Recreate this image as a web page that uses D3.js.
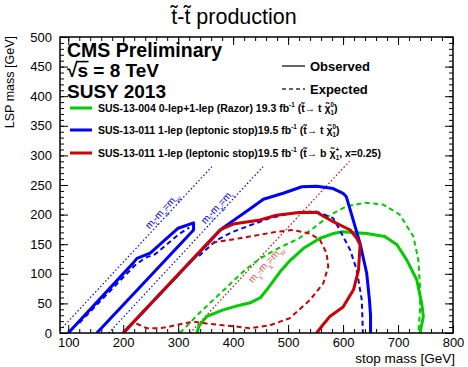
<!DOCTYPE html>
<html>
<head>
<meta charset="utf-8">
<script src="https://cdn.jsdelivr.net/npm/d3@7"></script>
<style>
  body { margin: 0; background: #fff; }
  svg { display: block; }
  text { font-family: "Liberation Sans", Arial, Helvetica, sans-serif; }
</style>
</head>
<body>
<svg id="chart" width="468" height="367"></svg>
<script>
// ---- data (stop mass, LSP mass) in GeV ----
const stopTicks = [100, 200, 300, 400, 500, 600, 700, 800];
const lspTicks = [0, 50, 100, 150, 200, 250, 300, 350, 400, 450, 500];

// SUS-13-004 razor, t~ -> t chi0
const razorObs = [[334,0],[338,12],[352,28],[382,39],[412,47],[431,51],[450,60],[467,80],[485,103],[503,122],[528,143],[558,160],[582,168],[600,171],[643,168],[676,163],[698,149],[716,123],[734,90],[743,50],[746,28],[740,0]];
const razorExp = [[303,0],[340,35],[380,70],[420,105],[449,126],[480,142],[520,160],[550,180],[576,199],[606,214],[640,220],[673,217],[703,200],[728,163],[737,123],[740,79],[740,39],[737,0]];

// SUS-13-011 single lepton, t~ -> t chi0 (compressed strip + main region)
const lepTopStripObs = [[100,0],[218,118],[225,126],[249,135],[300,177],[328,186],[328,174],[152,0]];
const lepTopStripExp = [[120,17],[170,65],[221,114],[240,127],[258,133],[300,166],[320,178]];
const lepTopObs = [[200,0],[376,173],[382,178],[431,210],[455,226],[491,236],[525,247],[552,248],[582,244],[600,236],[606,230],[613,208],[631,151],[643,101],[648,56],[650,30],[650,0]];
const lepTopExp = [[338,130],[346,137],[370,157],[400,171],[431,182],[449,188],[467,194],[503,202],[528,205],[552,205],[582,194],[594,174],[613,140],[625,106],[634,56],[635,30],[636,0]];

// SUS-13-011 single lepton, t~ -> b chi+, x = 0.25
const lepBotObs = [[200,0],[376,174],[400,184],[449,191],[479,199],[516,203],[552,204],[582,188],[613,174],[625,160],[631,149],[628,106],[619,73],[600,44],[576,28],[561,11],[552,0]];
const lepBotExp = [[224,16],[243,8],[267,8],[285,11],[309,16],[328,19],[352,16],[382,13],[406,11],[430,8],[467,13],[503,25],[540,56],[564,84],[573,112],[570,135],[558,157],[540,168],[509,174],[479,171],[449,166],[412,160],[370,154],[345,146]];

// kinematic boundaries m(stop) - m(LSP) = offset, drawn up to a given LSP mass
const kinOffsets = [80.4, 173.5, 321.6];
const kinLspTop = [281, 281, 290];
const kinLabelLsp = [199, 205, 126];

// ---- layout ----
const svg = d3.select("#chart");
const L = 60, R = 453, T = 37, B = 333;
const x = d3.scaleLinear().domain([85, 800]).range([L, R]);
const y = d3.scaleLinear().domain([0, 500]).range([B, T]);

svg.append("defs").append("clipPath").attr("id", "plotclip")
  .append("rect").attr("x", L).attr("y", T).attr("width", R - L).attr("height", B - T);

const GREEN = "#00cc00", BLUE = "#0000ff", RED = "#cc0000";

// ---- rich text helper: segments of [text, mode] with mode n / sup / sub / stack ----
function rich(sel, segs, fs) {
  let cur = 0;
  segs.forEach(([txt, mode]) => {
    const target = mode === "sup" ? -0.45 * fs : (mode === "sub" || mode === "stack") ? 0.35 * fs : 0;
    const ts = sel.append("tspan").attr("dy", (target - cur).toFixed(2)).text(txt);
    if (mode !== "n") ts.attr("font-size", (fs * 0.6).toFixed(2));
    if (mode === "stack") ts.attr("dx", (-fs * 0.6 * 0.56).toFixed(2));
    cur = target;
  });
}

// ---- axes with inside ticks on all four sides ----
const minorX = d3.range(100, 801, 20);
const minorY = d3.range(0, 501, 10);
function styleAxis(g) {
  g.select(".domain").remove();
  g.selectAll(".tick line").attr("stroke", "#000").attr("stroke-width", 1);
  g.selectAll("text").attr("font-size", 13).attr("fill", "#000")
    .attr("font-family", "Liberation Sans, Arial, sans-serif");
}
svg.append("g").attr("transform", `translate(0,${B})`)
  .call(d3.axisBottom(x).tickValues(stopTicks).tickSize(-8).tickPadding(5).tickFormat(d3.format("d"))).call(styleAxis);
svg.append("g").attr("transform", `translate(0,${B})`)
  .call(d3.axisBottom(x).tickValues(minorX).tickSize(-4).tickFormat("")).call(styleAxis);
svg.append("g").attr("transform", `translate(0,${T})`)
  .call(d3.axisTop(x).tickValues(stopTicks).tickSize(-8).tickFormat("")).call(styleAxis);
svg.append("g").attr("transform", `translate(0,${T})`)
  .call(d3.axisTop(x).tickValues(minorX).tickSize(-4).tickFormat("")).call(styleAxis);
svg.append("g").attr("transform", `translate(${L},0)`)
  .call(d3.axisLeft(y).tickValues(lspTicks).tickSize(-8).tickPadding(8).tickFormat(d3.format("d"))).call(styleAxis);
svg.append("g").attr("transform", `translate(${L},0)`)
  .call(d3.axisLeft(y).tickValues(minorY).tickSize(-4).tickFormat("")).call(styleAxis);
svg.append("g").attr("transform", `translate(${R},0)`)
  .call(d3.axisRight(y).tickValues(lspTicks).tickSize(-8).tickFormat("")).call(styleAxis);
svg.append("g").attr("transform", `translate(${R},0)`)
  .call(d3.axisRight(y).tickValues(minorY).tickSize(-4).tickFormat("")).call(styleAxis);

// ---- contours ----
const plot = svg.append("g").attr("clip-path", "url(#plotclip)");
const line = d3.line().x(d => x(d[0])).y(d => y(d[1]));

// kinematic limits
const kinColours = [BLUE, BLUE, RED];
kinOffsets.forEach((off, i) => {
  plot.append("path")
    .attr("d", line([[off, 0], [off + kinLspTop[i], kinLspTop[i]]]))
    .attr("fill", "none").attr("stroke", kinColours[i]).attr("stroke-width", 1.2)
    .attr("stroke-dasharray", "1.5,2.2");
});

const curves = [
  [razorExp, GREEN, true], [razorObs, GREEN, false],
  [lepTopStripExp, BLUE, true], [lepTopStripObs, BLUE, false],
  [lepTopExp, BLUE, true], [lepTopObs, BLUE, false],
  [lepBotExp, RED, true], [lepBotObs, RED, false]
];
curves.forEach(([pts, col, dashed]) => {
  plot.append("path").attr("d", line(pts))
    .attr("fill", "none").attr("stroke", col)
    .attr("stroke-width", dashed ? 2 : 3)
    .attr("stroke-linejoin", "round")
    .attr("stroke-dasharray", dashed ? "5,3.5" : null);
});

// labels along the kinematic limits
const ang = Math.atan2(y(1) - y(0), x(1) - x(0)) * 180 / Math.PI;
const kinLabels = [
  { segs: [["m", "n"], ["t\u0303", "sub"], ["-m", "n"], ["\u03c7\u0303", "sub"], ["=m", "n"], ["W", "sub"]], col: BLUE, off: -3, op: 1 },
  { segs: [["m", "n"], ["t\u0303", "sub"], ["-m", "n"], ["\u03c7\u0303", "sub"], ["=m", "n"], ["t", "sub"]], col: BLUE, off: -3, op: 1 },
  { segs: [["m", "n"], ["\u03c7\u0303", "sub"], ["-m", "n"], ["\u03c7\u0303", "sub"], ["=m", "n"], ["W", "sub"]], col: "#dd2222", off: 12, op: 0.75 }
];
kinLabels.forEach((lb, i) => {
  const l = kinLabelLsp[i], s = kinOffsets[i] + l;
  const t = svg.append("text")
    .attr("transform", `translate(${x(s)},${y(l)}) rotate(${ang})`)
    .attr("y", lb.off).attr("text-anchor", "middle")
    .attr("font-size", 10).attr("fill", lb.col).attr("opacity", lb.op);
  rich(t, lb.segs, 10);
});

// ---- frame ----
svg.append("rect").attr("x", L).attr("y", T).attr("width", R - L).attr("height", B - T)
  .attr("fill", "none").attr("stroke", "#000").attr("stroke-width", 1.5);

// ---- titles ----
svg.append("text").attr("x", 234).attr("y", 24).attr("text-anchor", "middle")
  .attr("font-size", 21.5).text("t\u0303-t\u0303 production");
svg.append("text").attr("x", 455).attr("y", 363).attr("text-anchor", "end")
  .attr("font-size", 13.5).text("stop mass [GeV]");
svg.append("text").attr("transform", `translate(14,${T - 1}) rotate(-90)`).attr("text-anchor", "end")
  .attr("font-size", 12.5).text("LSP mass [GeV]");

// ---- CMS labels ----
svg.append("text").attr("x", 67).attr("y", 56.5).attr("font-size", 19.5).attr("font-weight", "bold").text("CMS Preliminary");
const sqBase = 77;
const sq = svg.append("text").attr("x", 67).attr("y", sqBase).attr("font-size", 19).attr("font-weight", "bold")
  .text("\u221As = 8 TeV");
// radical bar over the "s"
{
  const n = sq.node();
  const x0 = n.getStartPositionOfChar(1).x - 1.5, x1 = n.getEndPositionOfChar(1).x + 0.5;
  svg.append("line").attr("x1", x0).attr("x2", x1).attr("y1", sqBase - 15.4).attr("y2", sqBase - 15.4)
    .attr("stroke", "#000").attr("stroke-width", 1.6);
}
svg.append("text").attr("x", 67).attr("y", 97.5).attr("font-size", 19).attr("font-weight", "bold").text("SUSY 2013");

// ---- legend ----
svg.append("line").attr("x1", 282).attr("x2", 305).attr("y1", 66).attr("y2", 66)
  .attr("stroke", "#333").attr("stroke-width", 1.5);
svg.append("text").attr("x", 310).attr("y", 70.5).attr("font-size", 13).attr("font-weight", "bold").text("Observed");
svg.append("line").attr("x1", 282).attr("x2", 305).attr("y1", 89).attr("y2", 89)
  .attr("stroke", "#333").attr("stroke-width", 1.5).attr("stroke-dasharray", "4,3");
svg.append("text").attr("x", 310).attr("y", 93.5).attr("font-size", 13).attr("font-weight", "bold").text("Expected");

const legendRows = [
  { col: GREEN, y: 108, segs: [["SUS-13-004 0-lep+1-lep (Razor) 19.3 fb", "n"], ["-1", "sup"], [" (t\u0303\u2192 t \u03c7\u0303", "n"], ["0", "sup"], ["1", "stack"], [")", "n"]] },
  { col: BLUE, y: 130, segs: [["SUS-13-011 1-lep (leptonic stop)19.5 fb", "n"], ["-1", "sup"], [" (t\u0303\u2192 t \u03c7\u0303", "n"], ["0", "sup"], ["1", "stack"], [")", "n"]] },
  { col: RED, y: 153, segs: [["SUS-13-011 1-lep (leptonic stop)19.5 fb", "n"], ["-1", "sup"], [" (t\u0303\u2192 b \u03c7\u0303", "n"], ["+", "sup"], ["1", "stack"], [", x=0.25)", "n"]] }
];
legendRows.forEach(r => {
  svg.append("line").attr("x1", 70).attr("x2", 92).attr("y1", r.y).attr("y2", r.y)
    .attr("stroke", r.col).attr("stroke-width", 3);
  const t = svg.append("text").attr("x", 98).attr("y", r.y + 3.5)
    .attr("font-size", 10.5).attr("font-weight", "bold");
  rich(t, r.segs, 10.5);
});
</script>
</body>
</html>
